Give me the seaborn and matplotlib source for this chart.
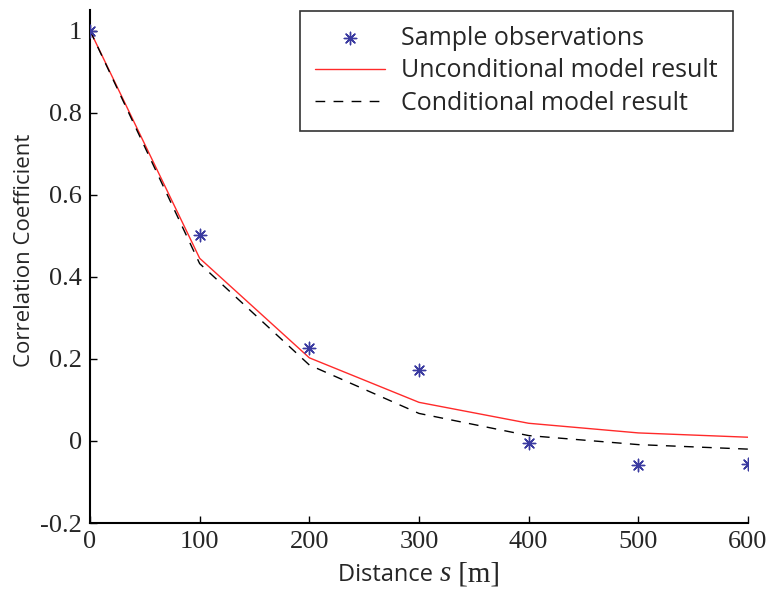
import numpy as np
import pandas as pd
import matplotlib
matplotlib.use("Agg")
import matplotlib.pyplot as plt
import seaborn as sns
from matplotlib.offsetbox import TextArea, HPacker, AnnotationBbox

distance = [0, 100, 200, 300, 400, 500, 600]
sample_obs = [1.0, 0.501, 0.226, 0.172, -0.004, -0.059, -0.057]
uncond = [1.0, 0.445, 0.2025, 0.094, 0.043, 0.0195, 0.009]
cond = [1.0, 0.432, 0.185, 0.067, 0.013, -0.009, -0.020]
xticks = [0, 100, 200, 300, 400, 500, 600]
yticks = [-0.2, 0, 0.2, 0.4, 0.6, 0.8, 1]
yticklabels = ["-0.2", "0", "0.2", "0.4", "0.6", "0.8", "1"]

sns.set_style("white")
plt.rcParams["font.family"] = ["Open Sans", "DejaVu Sans"]

fig = plt.figure(figsize=(7.73, 5.89), dpi=100)
ax = fig.add_axes([90/773, 1-523/589, 658/773, 513/589])

df = pd.DataFrame({"d": distance, "obs": sample_obs, "u": uncond, "c": cond})

sns.lineplot(data=df, x="d", y="u", ax=ax, color="#ff2a2a", lw=1.0,
             label="Unconditional model result")
sns.lineplot(data=df, x="d", y="c", ax=ax, color="black", lw=1.0,
             label="Conditional model result")
ax.lines[1].set_dashes([7, 6])
sns.scatterplot(data=df, x="d", y="obs", ax=ax, marker=(8, 2, 0), s=80,
                color="#3a3aa0", linewidth=1.0, edgecolor="#3a3aa0",
                label="Sample observations", zorder=5)

ax.set_xlim(0, 600)
ax.set_ylim(-0.2, 1.05)
ax.set_xticks(xticks)
ax.set_xticklabels([str(v) for v in xticks])
ax.set_yticks(yticks)
ax.set_yticklabels(yticklabels)
for lab in ax.get_xticklabels() + ax.get_yticklabels():
    lab.set_fontfamily("Liberation Serif")
    lab.set_fontsize(19)
ax.tick_params(direction="in", length=5, width=1.0, color="black",
               bottom=True, left=True, pad=6)
for s in ["top", "right"]:
    ax.spines[s].set_visible(False)
for s in ["left", "bottom"]:
    ax.spines[s].set_color("black")
    ax.spines[s].set_linewidth(1.5)

ax.set_xlabel("")
ax.set_ylabel("Correlation Coefficient", fontsize=16)
ax.yaxis.set_label_coords(-0.083, 0.532)

# x label with mixed fonts
t1 = TextArea("Distance ", textprops=dict(fontsize=17, family="Open Sans"))
t2 = TextArea("s", textprops=dict(fontsize=21, family="Liberation Serif",
                                  style="italic"))
t3 = TextArea(" [m]", textprops=dict(fontsize=21, family="Liberation Serif"))
pack = HPacker(children=[t1, t2, t3], align="baseline", pad=0, sep=0)
ab = AnnotationBbox(pack, (0.5, 0), xycoords="axes fraction",
                    xybox=(0, -37), boxcoords="offset points",
                    box_alignment=(0.5, 0.5), frameon=False)
ax.add_artist(ab)

h, l = ax.get_legend_handles_labels()
order = [2, 0, 1]
leg = ax.legend([h[i] for i in order], [l[i] for i in order],
                loc="upper right", bbox_to_anchor=(0.977, 0.998),
                fontsize=18, frameon=True, fancybox=False, handlelength=2.8,
                borderpad=0.6, labelspacing=0.29, handletextpad=0.65,
                borderaxespad=0)
leg.get_frame().set_edgecolor("black")
leg.get_frame().set_linewidth(1.2)

fig.savefig("out.png", dpi=100)
